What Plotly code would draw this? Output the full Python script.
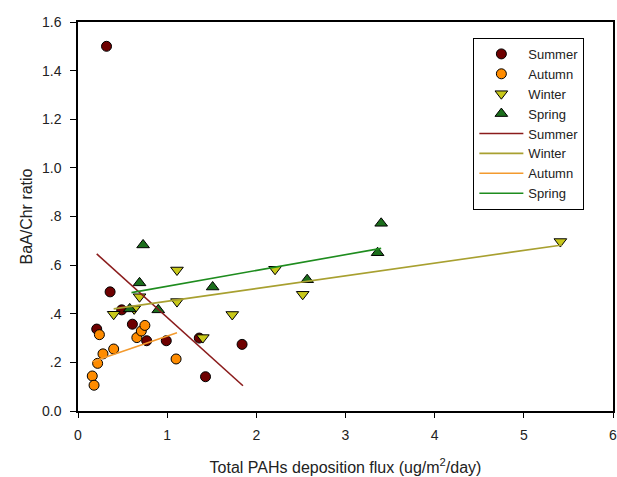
import plotly.graph_objects as go

# Scatter data (Total PAHs deposition flux, BaA/Chr ratio)
summer_x = [0.32, 0.36, 0.21, 0.49, 0.61, 0.77, 0.99, 1.36, 1.43, 1.84]
summer_y = [1.50, 0.49, 0.337, 0.416, 0.357, 0.289, 0.289, 0.30, 0.141, 0.274]

autumn_x = [0.16, 0.18, 0.22, 0.24, 0.28, 0.40, 0.66, 0.71, 0.75, 1.10]
autumn_y = [0.144, 0.106, 0.196, 0.314, 0.235, 0.255, 0.302, 0.329, 0.352, 0.214]

winter_x = [0.40, 0.63, 0.69, 1.11, 1.11, 1.40, 1.73, 2.21, 2.52, 5.41]
winter_y = [0.398, 0.42, 0.47, 0.58, 0.45, 0.302, 0.397, 0.583, 0.48, 0.697]

spring_x = [0.58, 0.69, 0.73, 0.90, 1.51, 2.57, 3.36, 3.40]
spring_y = [0.42, 0.527, 0.683, 0.416, 0.51, 0.54, 0.651, 0.772]

# Regression line end points
summer_fit_x = [0.21, 1.85]
summer_fit_y = [0.646, 0.104]
winter_fit_x = [0.40, 5.43]
winter_fit_y = [0.42, 0.683]
autumn_fit_x = [0.16, 1.11]
autumn_fit_y = [0.203, 0.322]
spring_fit_x = [0.60, 3.40]
spring_fit_y = [0.487, 0.669]

x_ticks = [0, 1, 2, 3, 4, 5, 6]
y_ticks = [0.0, 0.2, 0.4, 0.6, 0.8, 1.0, 1.2, 1.4, 1.6]
y_tick_labels = ["0.0", ".2", ".4", ".6", ".8", "1.0", "1.2", "1.4", "1.6"]

c_summer = "#6E0000"
c_autumn = "#FF8C00"
c_winter = "#C8C81A"
c_spring = "#1C6E1C"

fig = go.Figure()

def add_markers(x, y, name, color, symbol, size):
    fig.add_trace(go.Scatter(
        x=x, y=y, mode="markers", name=name,
        marker=dict(color=color, symbol=symbol, size=size,
                    line=dict(color="black", width=1)),
    ))

add_markers(summer_x, summer_y, "Summer", c_summer, "circle", 10)
add_markers(autumn_x, autumn_y, "Autumn", c_autumn, "circle", 10)
add_markers(winter_x, winter_y, "Winter", c_winter, "triangle-down", 11)
add_markers(spring_x, spring_y, "Spring", c_spring, "triangle-up", 11)

def add_line(x, y, name, color):
    fig.add_trace(go.Scatter(
        x=x, y=y, mode="lines", name=name,
        line=dict(color=color, width=1.6),
    ))

add_line(summer_fit_x, summer_fit_y, "Summer", "#8B1C1C")
add_line(winter_fit_x, winter_fit_y, "Winter", "#A8A030")
add_line(autumn_fit_x, autumn_fit_y, "Autumn", "#F39A2E")
add_line(spring_fit_x, spring_fit_y, "Spring", "#1E8C1E")

fig.update_layout(
    width=617, height=477,
    margin=dict(l=78, r=0, t=22, b=66),
    paper_bgcolor="white", plot_bgcolor="white",
    font=dict(family="Liberation Sans, Arial, sans-serif", size=14, color="#222222"),
    showlegend=True,
    legend=dict(
        x=0.739, y=0.959, xanchor="left", yanchor="top",
        bordercolor="black", borderwidth=1, bgcolor="white",
        font=dict(size=13, color="#222222"),
        tracegroupgap=0, itemwidth=44,
    ),
    xaxis=dict(
        range=[0, 6], tickvals=x_ticks, ticktext=[str(v) for v in x_ticks],
        showgrid=False, zeroline=False, showline=True, linecolor="black",
        linewidth=1.5, mirror=True, ticks="outside", ticklen=5,
        tickcolor="black", tickfont=dict(size=14),
        ticklabeloverflow="allow", ticklabelstandoff=5,
        title=dict(text="Total PAHs deposition flux (ug/m<sup>2</sup>/day)",
                   font=dict(size=16), standoff=20),
    ),
    yaxis=dict(
        range=[0, 1.6], tickvals=y_ticks, ticktext=y_tick_labels,
        showgrid=False, zeroline=False, showline=True, linecolor="black",
        linewidth=1.5, mirror=True, ticks="outside", ticklen=6,
        tickcolor="black", tickfont=dict(size=14), ticklabelstandoff=6,
        title=dict(text="BaA/Chr ratio", font=dict(size=16), standoff=5),
    ),
)

fig.write_html("out.html")
